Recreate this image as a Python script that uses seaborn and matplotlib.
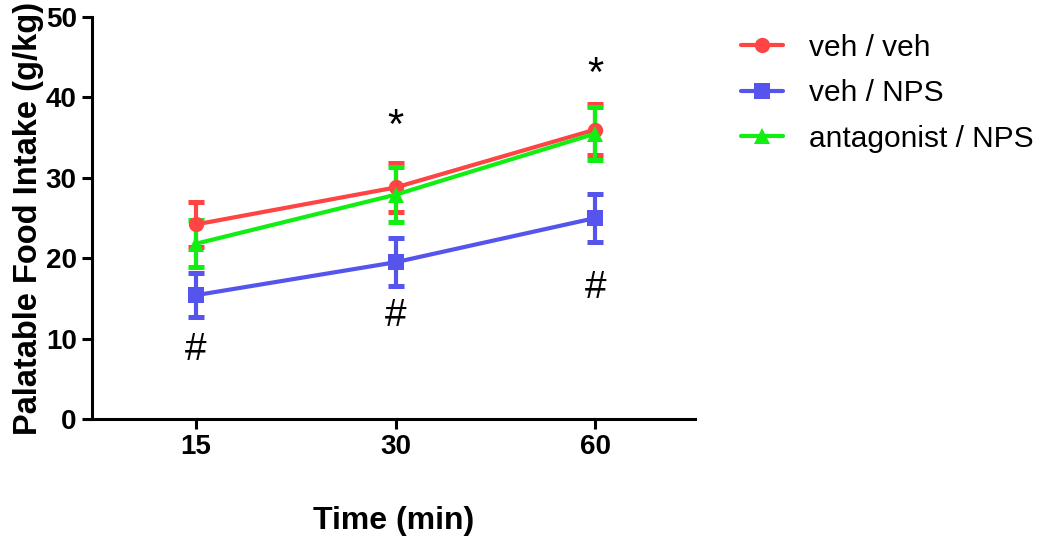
import numpy as np
import pandas as pd
import matplotlib
matplotlib.use("Agg")
import matplotlib.pyplot as plt
import seaborn as sns

# Dados (média ± EPM)
times = ["15", "30", "60"]
groups = ["veh / veh", "veh / NPS", "antagonist / NPS"]
veh_veh_mean = [24.2, 28.8, 36.0]
veh_veh_sem = [2.8, 3.0, 3.2]
veh_nps_mean = [15.4, 19.5, 25.0]
veh_nps_sem = [2.7, 3.0, 3.0]
ant_nps_mean = [21.8, 27.9, 35.5]
ant_nps_sem = [2.9, 3.4, 3.3]

star_times = ["30", "60"]
star_y = [36.3, 42.8]
hash_times = ["15", "30", "60"]
hash_y = [8.6, 12.8, 16.3]

colors = ["#FF4444", "#5555EE", "#11EE11"]
markers = ["o", "s", "^"]

means = [veh_veh_mean, veh_nps_mean, ant_nps_mean]
sems = [veh_veh_sem, veh_nps_sem, ant_nps_sem]

df = pd.DataFrame({
    "time": times * 3,
    "group": [g for g in groups for _ in times],
    "intake": veh_veh_mean + veh_nps_mean + ant_nps_mean,
})

sns.set_style("ticks")
plt.rcParams["font.family"] = ["Liberation Sans", "DejaVu Sans"]
plt.rcParams["text.color"] = "black"
plt.rcParams["axes.labelcolor"] = "black"
plt.rcParams["xtick.color"] = "black"
plt.rcParams["ytick.color"] = "black"
plt.rcParams["axes.edgecolor"] = "black"

fig = plt.figure(figsize=(10.5, 5.41), dpi=100)
ax = fig.add_axes([0.0876, 0.2255, 0.5744, 0.743])

sns.lineplot(data=df, x="time", y="intake", hue="group", style="group",
             palette=colors, markers=markers, dashes=False, linewidth=3,
             markersize=11, markeredgewidth=0, ax=ax, sort=False)

for m, s, c in zip(means, sems, colors):
    ax.errorbar(times, m, yerr=s, fmt="none", ecolor=c, elinewidth=3,
                capsize=6, capthick=3.6, zorder=1.5)

for t, y in zip(star_times, star_y):
    ax.text(t, y, "*", ha="center", va="center", fontsize=30)
for t, y in zip(hash_times, hash_y):
    ax.text(t, y, "#", ha="center", va="center", fontsize=28)

ax.set_xlim(-0.52, 2.5)
ax.set_ylim(0, 50)
ax.set_yticks([0, 10, 20, 30, 40, 50])
sns.despine(ax=ax)
for sp in ["left", "bottom"]:
    ax.spines[sp].set_linewidth(2.2)
ax.tick_params(width=2.2, length=7, labelsize=20, pad=4)
for lbl in ax.get_xticklabels() + ax.get_yticklabels():
    lbl.set_fontweight("bold")

ax.set_xlabel("Time (min)", fontsize=23, fontweight="bold", labelpad=33)
ax.set_ylabel("Palatable Food Intake (g/kg)", fontsize=23.5, fontweight="bold", labelpad=1)

handles, labels = ax.get_legend_handles_labels()
ax.legend(handles, labels, loc="upper left", bbox_to_anchor=(1.042, 1.01),
          frameon=False, fontsize=21.5, handlelength=1.4, handletextpad=0.85,
          labelspacing=0.58, borderaxespad=0.3)

fig.savefig("out.png", dpi=100)
